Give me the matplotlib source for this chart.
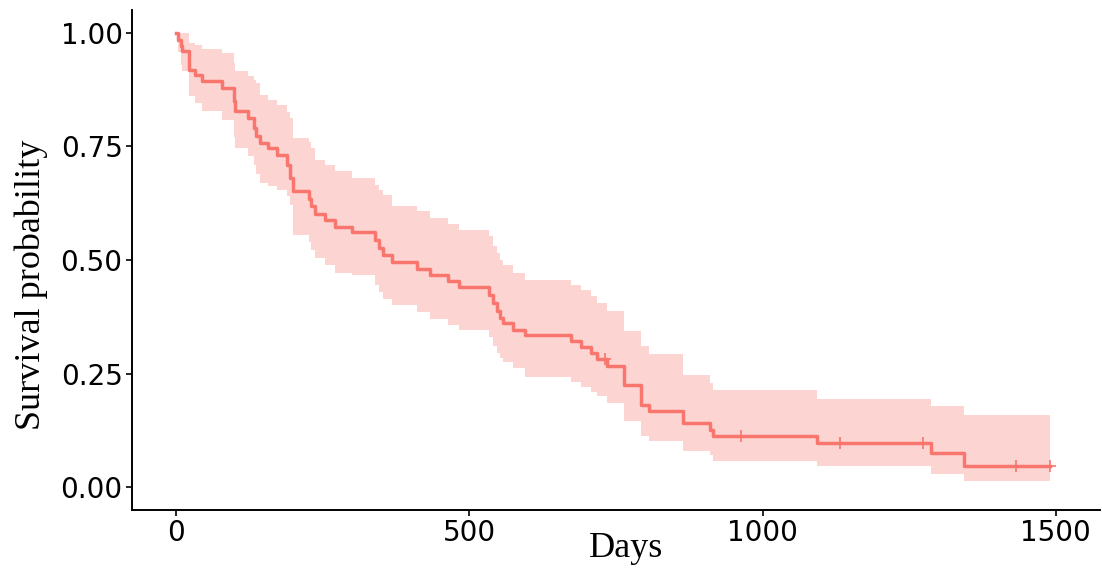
import numpy as np
from matplotlib import pyplot as plt

# Kaplan-Meier estimate (step changes)
days = [0, 3, 8, 10, 23, 33, 45, 78, 99, 101, 122, 133, 136, 143, 157, 172, 190, 194, 200, 226,
        231, 237, 254, 271, 300, 339, 346, 353, 368, 411, 433, 464, 483, 534, 541, 547, 553, 557,
        575, 595, 674, 691, 708, 718, 734, 764, 792, 806, 865, 910, 916, 1092, 1287, 1343]
surv = [1.0, 0.985, 0.97, 0.959, 0.919, 0.906, 0.893, 0.878, 0.85, 0.827, 0.812, 0.79, 0.772,
        0.758, 0.747, 0.732, 0.71, 0.68, 0.651, 0.635, 0.618, 0.602, 0.587, 0.572, 0.561, 0.545,
        0.527, 0.51, 0.495, 0.481, 0.468, 0.453, 0.44, 0.424, 0.406, 0.387, 0.373, 0.362, 0.347,
        0.334, 0.322, 0.309, 0.296, 0.283, 0.267, 0.224, 0.182, 0.168, 0.141, 0.127, 0.113, 0.097,
        0.075, 0.046]
lower = [1.0, 0.957, 0.93, 0.915, 0.86, 0.846, 0.827, 0.809, 0.77, 0.747, 0.728, 0.71, 0.69,
         0.67, 0.662, 0.655, 0.64, 0.62, 0.556, 0.54, 0.523, 0.505, 0.488, 0.472, 0.466, 0.445,
         0.43, 0.415, 0.40, 0.385, 0.37, 0.358, 0.345, 0.33, 0.31, 0.295, 0.285, 0.275, 0.262,
         0.243, 0.232, 0.22, 0.21, 0.2, 0.185, 0.146, 0.113, 0.102, 0.08, 0.07, 0.058, 0.047,
         0.030, 0.014]
upper = [1.0, 1.0, 1.0, 1.0, 0.977, 0.972, 0.964, 0.955, 0.934, 0.915, 0.905, 0.895, 0.889,
         0.862, 0.853, 0.84, 0.825, 0.812, 0.769, 0.76, 0.747, 0.721, 0.708, 0.695, 0.68, 0.665,
         0.655, 0.644, 0.618, 0.607, 0.593, 0.58, 0.567, 0.552, 0.53, 0.515, 0.50, 0.49, 0.472,
         0.457, 0.446, 0.435, 0.42, 0.405, 0.387, 0.343, 0.31, 0.294, 0.246, 0.23, 0.213, 0.195,
         0.179, 0.160]
censor_days = [731, 964, 1132, 1274, 1432, 1490]
last_day = 1490

x_ticks = [0, 500, 1000, 1500]
y_ticks = [0.0, 0.25, 0.5, 0.75, 1.0]

color = "#F8766D"

# extend the steps to the last follow-up time
t = np.array(days + [last_day])
s = np.array(surv + [surv[-1]])
lo = np.array(lower + [lower[-1]])
hi = np.array(upper + [upper[-1]])

fig = plt.figure(figsize=(11.02, 5.74), dpi=100)
ax = fig.add_axes([0.1198, 0.1115, 0.8782, 0.8711])

ax.fill_between(t, lo, hi, step="post", color=color, alpha=0.3, linewidth=0)
ax.step(t, s, where="post", color=color, linewidth=2.5)

# censoring marks sit on the curve
idx = np.searchsorted(t, censor_days, side="right") - 1
ax.plot(censor_days, s[idx], linestyle="none", marker="+", markersize=9,
        markeredgewidth=1.2, color=color)

ax.set_xlim(-75, 1575)
ax.set_ylim(-0.05, 1.05)
ax.set_xticks(x_ticks)
ax.set_yticks(y_ticks)
ax.set_yticklabels([f"{v:.2f}" for v in y_ticks])

for side in ["top", "right"]:
    ax.spines[side].set_visible(False)
for side in ["left", "bottom"]:
    ax.spines[side].set_linewidth(1.4)
    ax.spines[side].set_color("black")

ax.tick_params(axis="both", length=4.3, width=1.2, color="black", labelsize=20,
               labelcolor="black", pad=2.5)
for lab in ax.get_xticklabels() + ax.get_yticklabels():
    lab.set_family("DejaVu Sans")

ax.set_xlabel("Days", fontsize=26, family="Liberation Serif")
ax.set_ylabel("Survival probability", fontsize=26, family="Liberation Serif")
ax.xaxis.set_label_coords(0.51, -0.045)
ax.xaxis.label.set_verticalalignment("top")
ax.yaxis.set_label_coords(-0.104, 0.45)
ax.yaxis.label.set_verticalalignment("center")
ax.yaxis.label.set_horizontalalignment("center")

fig.savefig("out.png", dpi=100)
